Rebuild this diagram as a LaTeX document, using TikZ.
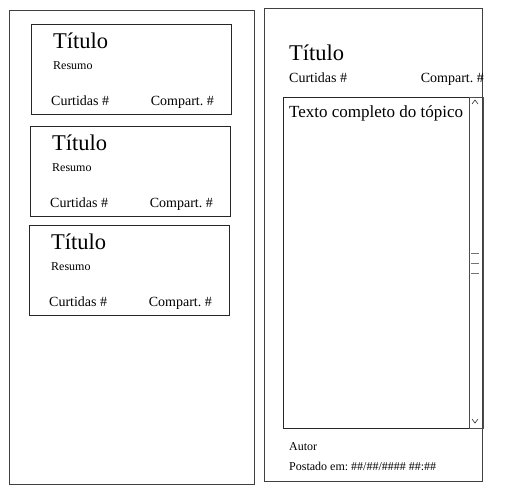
\documentclass[tikz,border=0pt]{standalone}
\usepackage{fontspec}
\setmainfont{Liberation Serif}
\frenchspacing
\begin{document}
\begin{tikzpicture}[x=1pt,y=-1pt,
  frame/.style={draw=black!75,line width=1pt},
  box/.style={draw=black!85,line width=0.9pt},
  txt/.style={anchor=base west,inner sep=0pt,text=black},
  txtr/.style={anchor=base east,inner sep=0pt,text=black},
  big/.style={font=\fontsize{22.5}{24}\selectfont},
  mid/.style={font=\fontsize{14}{16}\selectfont},
  sml/.style={font=\fontsize{12}{14}\selectfont},
  body/.style={font=\fontsize{17}{19}\selectfont}]
\useasboundingbox (0,0) rectangle (514,491);
\fill[white] (0,0) rectangle (514,491);
% left panel
\coordinate (L1) at (9,10); \coordinate (L2) at (254,484);
\draw[frame] (L1) rectangle (L2);
% cards
\foreach \i/\dx/\dy in {1/0/0,2/-1/102,3/-2/201}{
  \coordinate (c\i a) at (31+\dx,24+\dy);
  \coordinate (c\i b) at (231+\dx,114+\dy);
  \draw[box] (c\i a) rectangle (c\i b);
  \node[txt,big] (t\i) at (53+\dx,48+\dy) {Título};
  \node[txt,sml] (r\i) at (53+\dx,69+\dy) {Resumo};
  \node[txt,mid] (cu\i) at (51+\dx,105+\dy) {Curtidas \#};
  \node[txtr,mid] (co\i) at (214+\dx,105+\dy) {Compart. \#};
}
% right panel
\coordinate (R1) at (264,8); \coordinate (R2) at (482,481);
\draw[frame] (R1) rectangle (R2);
\node[txt,big] (rt) at (289,60) {Título};
\node[txt,mid] (rcu) at (289,82) {Curtidas \#};
\node[txtr,mid] (rco) at (484,82) {Compart. \#};
% text area
\coordinate (T1) at (283,97); \coordinate (T2) at (483,428);
\draw[box] (T1) rectangle (T2);
\node[txt,body] (tx) at (289,117) {Texto completo do tópico};
% scrollbar
\coordinate (S1) at (469,97); \coordinate (S2) at (483,428);
\draw[draw=black!70,line width=1pt] (S1) rectangle (S2);
\draw[black!55,line width=0.8pt] (471,253) -- (479,253) (471,263) -- (479,263) (471,273) -- (479,273);
\draw[black!80,line width=0.6pt] (472,104) -- (475,100) -- (478,104);
\draw[black!80,line width=0.6pt] (472,419) -- (475,423) -- (478,419);
% footer
\node[txt,sml] (au) at (289,450) {Autor};
\node[txt,sml] (po) at (289,470) {Postado em: \#\#/\#\#/\#\#\#\# \#\#:\#\#};
\end{tikzpicture}
\end{document}
